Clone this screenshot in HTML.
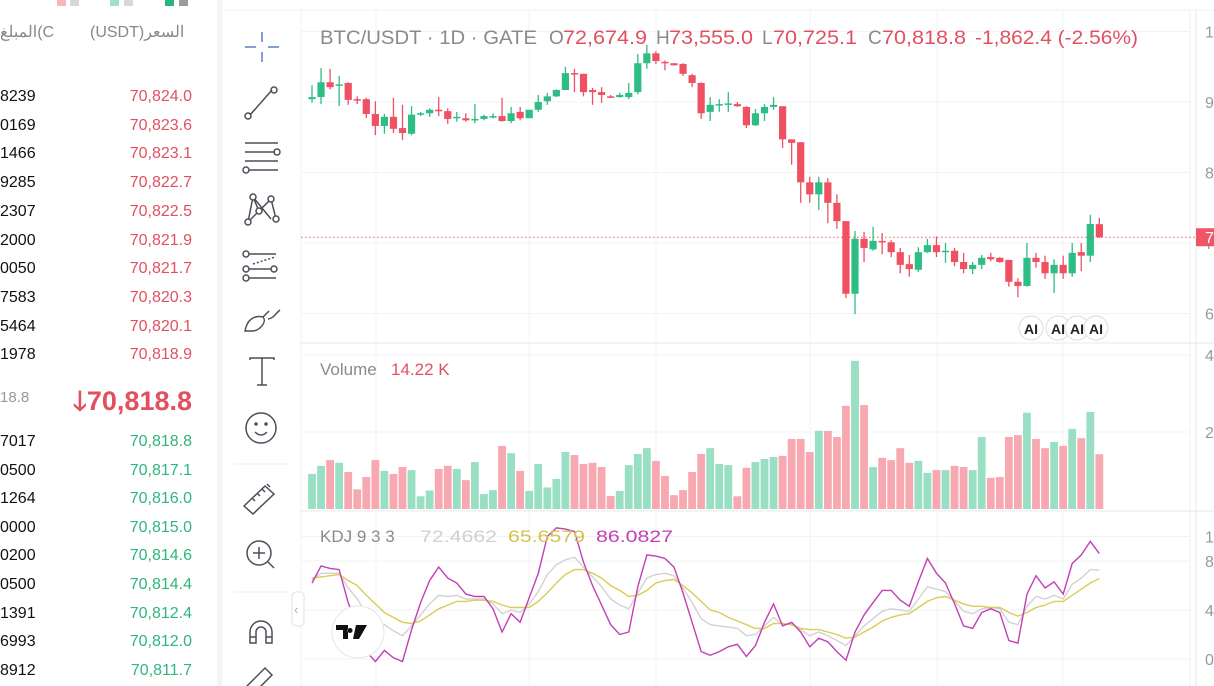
<!DOCTYPE html>
<html><head><meta charset="utf-8"><style>
body{margin:0;width:1214px;height:686px;overflow:hidden;background:#fff;font-family:"Liberation Sans","Noto Sans CJK SC",sans-serif;position:relative}
.lp{position:absolute;left:0;top:0;width:217px;height:686px;background:#fff;overflow:hidden}
.row{position:absolute;left:0;width:192px;height:20px;font-size:16px}
.row .a{position:absolute;left:0;color:#111}
.row .p{position:absolute;right:0}
.red{color:#e2505f}.grn{color:#2fb57e}
.ib{display:inline-block}
</style></head><body>
<div class="lp">
 <div style="position:absolute;left:57px;top:0;width:9px;height:6px;background:#f7b6bd"></div><div style="position:absolute;left:70px;top:0;width:9px;height:6px;background:#d7d8da"></div>
 <div style="position:absolute;left:110px;top:0;width:9px;height:6px;background:#9fe0c6"></div><div style="position:absolute;left:124px;top:0;width:9px;height:6px;background:#d7d8da"></div>
 <div style="position:absolute;left:165px;top:0;width:9px;height:6px;background:#27b57e"></div><div style="position:absolute;left:179px;top:0;width:9px;height:6px;background:#9a9ca0"></div>
 <div style="position:absolute;left:0;top:22px;width:56px;overflow:hidden;font-size:16px;color:#888;white-space:nowrap"><span class="ib">المبلغ</span><span class="ib">(C</span></div>
 <div style="position:absolute;left:90px;top:22px;font-size:16px;color:#888;white-space:nowrap"><span class="ib">(USDT)</span><span class="ib">السعر</span></div>
 <div id="asks"></div>
 <div style="position:absolute;left:0;top:383px;width:192px;height:30px">
  <span style="position:absolute;left:0;top:6px;font-size:15px;color:#999">18.8</span>
  <span style="position:absolute;right:0;top:-1px;font-size:27px;font-weight:bold;color:#e2505f">🡓70,818.8</span>
 </div>
 <div id="bids"></div>
</div>
<div style="position:absolute;left:217px;top:0;width:5px;height:686px;background:#f3f4f6"></div>
<svg id="svg" width="1214" height="686" style="position:absolute;left:0;top:0" xmlns="http://www.w3.org/2000/svg"></svg>
<script>
const opens=[90.4,90.7,92.8,92.3,92.7,90.4,90.4,88.3,86.6,87.9,86.3,85.5,88.2,88.4,88.9,88.7,87.7,87.7,87.4,87.6,87.9,88.0,87.3,88.6,87.7,88.9,90.1,90.8,91.7,94.1,94.0,91.7,91.4,90.8,90.7,90.7,91.4,95.5,96.9,95.7,95.5,95.4,93.8,92.7,88.6,89.6,89.7,89.7,89.3,86.7,88.4,89.3,89.4,84.7,84.3,78.6,76.9,78.6,75.7,73.1,62.8,70.6,69.1,70.3,70.1,68.7,67.0,66.2,68.7,69.7,68.7,68.9,67.3,66.3,66.9,68.0,67.9,67.6,64.5,63.9,67.9,67.3,65.7,66.9,65.7,68.7,68.2,72.67];
const highs=[92.4,94.8,94.7,93.7,92.8,90.8,90.6,90.1,88.3,90.6,89.6,89.4,88.6,89.1,90.7,89.1,88.6,88.4,89.7,88.2,88.4,90.6,89.3,89.3,88.9,91.0,91.3,91.8,95.0,94.7,94.0,92.0,92.1,91.0,91.3,92.7,96.8,98.1,97.2,95.9,95.5,95.5,94.0,92.8,90.7,90.4,91.4,90.0,89.4,89.0,89.7,90.7,89.4,84.7,84.3,79.4,79.4,79.2,76.9,73.1,71.7,71.6,72.3,71.4,70.4,69.3,68.3,69.4,70.6,70.9,70.0,69.3,68.6,67.3,68.3,68.6,68.0,67.6,65.0,70.0,68.6,68.2,67.7,68.2,70.0,70.0,74.0,73.56];
const lows=[89.9,89.7,91.8,89.4,89.6,89.7,87.7,85.3,85.5,85.6,84.6,85.3,88.0,87.9,88.0,86.9,87.2,87.2,87.0,87.4,87.7,87.2,87.0,87.4,87.7,88.6,89.6,90.7,91.7,91.4,90.8,89.6,89.9,90.6,90.6,90.4,91.1,94.7,95.4,94.5,95.2,93.7,92.1,87.6,87.3,88.6,88.6,89.3,86.3,86.6,87.3,88.9,83.5,81.1,75.7,75.7,74.7,72.8,72.0,62.2,59.9,67.3,68.9,68.4,68.0,65.7,65.2,65.9,68.6,68.0,67.2,66.7,65.7,65.6,66.3,67.4,67.2,63.8,62.3,63.8,66.5,64.9,62.9,64.9,65.2,66.0,67.3,70.73];
const closes=[90.7,92.8,92.1,92.5,90.3,90.3,88.3,86.6,87.9,86.2,85.6,88.2,88.4,88.9,88.7,87.6,87.9,87.4,87.6,88.0,88.0,87.3,88.4,87.7,88.9,90.0,90.8,91.7,94.1,94.0,91.4,91.4,91.0,90.7,91.0,91.3,95.5,96.9,95.8,95.5,95.2,94.0,92.7,88.4,89.6,89.7,89.8,89.4,86.7,88.4,89.3,89.6,84.7,84.2,78.6,76.9,78.6,75.7,73.1,62.8,70.6,69.3,70.3,70.1,68.7,66.9,66.3,68.7,69.7,68.7,68.9,67.3,66.3,66.9,67.9,67.7,67.3,64.5,63.9,67.9,67.3,65.7,66.9,65.7,68.6,68.2,72.7,70.8188];
const volumes=[9.1,11.2,12.7,12.0,9.6,5.1,8.3,12.7,9.9,9.1,10.9,10.1,3.3,4.8,10.4,11.2,10.4,7.5,12.2,3.9,4.9,16.4,14.5,9.9,4.7,11.7,5.6,7.8,14.8,14.0,11.7,12.0,10.9,3.4,4.7,11.4,14.3,15.8,12.5,8.6,3.6,4.9,9.6,14.3,15.8,11.7,11.4,3.3,10.7,12.2,13.0,13.5,13.8,18.2,18.2,14.8,20.3,20.3,18.7,26.8,38.5,27.0,10.9,13.3,12.7,15.8,12.0,12.5,9.4,10.1,10.1,11.2,10.9,10.1,18.7,8.1,8.3,18.7,19.2,25.0,18.2,15.8,17.4,16.4,20.8,18.4,25.2,14.22];
const kVals=[65,70,70,70,58,49,37,29,28,23,19,27,36,45,52,51,52,49,49,49,45,37,40,38,45,55,69,77,81,83,75,67,59,49,44,41,54,66,69,70,68,58,46,33,28,27,26,25,19,20,27,34,28,29,24,19,22,19,15,11,19,27,33,39,41,40,39,49,59,57,55,47,39,37,41,42,41,30,28,43,51,49,52,49,61,66,73,72.47];
const dVals=[66,67,68,69,64,60,52,45,38,34,30,29,31,36,41,44,47,47,48,48,47,44,42,42,42,47,54,62,69,73,73,70,66,60,56,51,52,56,62,64,65,60,54,47,40,38,34,31,28,25,25,29,29,28,25,24,24,22,20,17,18,22,26,31,34,36,37,42,47,50,51,48,45,43,43,42,42,38,35,38,42,44,47,47,52,57,62,65.66];
const jVals=[62,76,74,73,46,28,6,-2,7,1,-2,24,46,64,75,66,62,53,51,51,41,22,37,30,50,70,100,107,106,104,79,60,44,28,20,22,59,85,84,82,75,54,30,6,3,6,10,12,2,11,30,45,27,30,22,10,17,14,6,-1,22,36,46,56,56,48,43,63,82,70,62,45,27,25,38,41,38,15,13,53,68,58,63,53,78,85,96,86.08];
const priceTicks=["100000","90000","80000","70000","60000"];
const priceTickVals=[100,90,80,70,60];
const volTicks=["40K","20K"];const volTickVals=[40,20];
const kdjTicks=["100","80","40","0"];const kdjTickVals=[100,80,40,0];
const askAmts=["8239","0169","1466","9285","2307","2000","0050","7583","5464","1978"];
const askPrices=["70,824.0","70,823.6","70,823.1","70,822.7","70,822.5","70,821.9","70,821.7","70,820.3","70,820.1","70,818.9"];
const bidAmts=["7017","0500","1264","0000","0200","0500","1391","6993","8912"];
const bidPrices=["70,818.8","70,817.1","70,816.0","70,815.0","70,814.6","70,814.4","70,812.4","70,812.0","70,811.7"];

const NS="http://www.w3.org/2000/svg";
const svg=document.getElementById('svg');
const xS=i=>312+i*9.05;
const yP=p=>243-(p-70)*7.05;
const yV=v=>509-v*3.85;
const yK=v=>659-v*1.225;
const RED='#ef5062',GRN='#2ebd85';
function mk(tag,attrs,parent){const e=document.createElementNS(NS,tag);for(const k in attrs)e.setAttribute(k,attrs[k]);(parent||svg).appendChild(e);return e;}

const asks=document.getElementById('asks');
askAmts.forEach((a,i)=>{const r=document.createElement('div');r.className='row';r.style.top=(88+i*28.7)+'px';


r.innerHTML='<span class="a">'+a+'</span><span class="p red">'+askPrices[i]+'</span>';asks.appendChild(r);});
const bids=document.getElementById('bids');
bidAmts.forEach((a,i)=>{const r=document.createElement('div');r.className='row';r.style.top=(433+i*28.6)+'px';


r.innerHTML='<span class="a">'+a+'</span><span class="p grn">'+bidPrices[i]+'</span>';bids.appendChild(r);});

mk('line',{x1:222,y1:10,x2:1214,y2:10,stroke:'#eef0f3'});
mk('line',{x1:301,y1:10,x2:301,y2:686,stroke:'#eef0f3'});
mk('line',{x1:1190,y1:10,x2:1190,y2:686,stroke:'#eef0f3'});
mk('line',{x1:1196,y1:10,x2:1196,y2:686,stroke:'#e6e8eb'});
mk('line',{x1:301,y1:343,x2:1214,y2:343,stroke:'#e6e8eb'});
mk('line',{x1:301,y1:511,x2:1214,y2:511,stroke:'#e6e8eb'});
const grid=mk('g',{stroke:'#f1f3f6','stroke-width':1});


[376,529,656,810,937,1063].forEach(x=>mk('line',{x1:x,y1:10,x2:x,y2:686},grid));
priceTickVals.forEach(v=>mk('line',{x1:301,y1:yP(v),x2:1190,y2:yP(v)},grid));
volTickVals.forEach(v=>mk('line',{x1:301,y1:yV(v),x2:1190,y2:yV(v)},grid));
kdjTickVals.forEach(v=>mk('line',{x1:301,y1:yK(v),x2:1190,y2:yK(v)},grid));
function axLabel(t,y,name){const e=mk('text',{x:1205,y:y+6,'font-size':16,fill:'#999'});e.textContent=t;

}
priceTicks.forEach((t,i)=>axLabel(t,yP(priceTickVals[i]),'price-tick'));
volTicks.forEach((t,i)=>axLabel(t,yV(volTickVals[i]),'volume-tick'));
kdjTicks.forEach((t,i)=>axLabel(t,yK(kdjTickVals[i]),'kdj-tick'));

const cg=mk('g',{});


opens.forEach((o,i)=>{const c=closes[i],col=c>=o?GRN:RED,x=xS(i);
 const w=mk('line',{x1:x,x2:x,y1:yP(highs[i]),y2:yP(lows[i]),stroke:col,'stroke-width':1.3},cg);
 
 
 const t=Math.min(yP(o),yP(c)),h=Math.max(1.5,Math.abs(yP(o)-yP(c)));
 const b=mk('rect',{x:x-3.6,y:t,width:7.2,height:h,fill:col},cg);
 
 });
const lp=closes[closes.length-1];
mk('line',{x1:301,x2:1196,y1:yP(lp),y2:yP(lp),stroke:RED,'stroke-width':1,'stroke-dasharray':'1.5 2.5'});
const tag=mk('rect',{x:1196,y:yP(lp)-9,width:18,height:18,fill:'#f05565'});


const tt=mk('text',{x:1205,y:yP(lp)+6,'font-size':16,fill:'#fff'});tt.textContent='70,818.8';
const vg=mk('g',{});


volumes.forEach((v,i)=>{const col=closes[i]>=opens[i]?'#99dfc3':'#f7a8b0';
 const r=mk('rect',{x:xS(i)-3.9,y:yV(v),width:7.8,height:509-yV(v),fill:col},vg);
 
 });
const kclip=mk('clipPath',{id:'kc'});mk('rect',{x:301,y:512,width:889,height:174},kclip);
function series(arr,col,name){const d=arr.map((v,i)=>(i?'L':'M')+xS(i).toFixed(1)+' '+yK(v).toFixed(1)).join(' ');
 const p=mk('path',{d:d,fill:'none',stroke:col,'stroke-width':1.4,'clip-path':'url(#kc)'});
 
 }
series(kVals,'#d2d2d2','kdj-k-line');
series(dVals,'#dccb55','kdj-d-line');
series(jVals,'#c23fb6','kdj-j-line');

function txt(x,y,t,col,size,name,len){const a={x:x,y:y,'font-size':size||18,fill:col};if(len){a.textLength=len;a.lengthAdjust='spacingAndGlyphs';}
 const e=mk('text',a);e.textContent=t;
 
 return e;}
txt(320,44,'BTC/USDT · 1D · GATE','#8a8a8a',19,'symbol-title',217);
[['O',549,'72,674.9',563],['H',656,'73,555.0',669],['L',762,'70,725.1',773],['C',868,'70,818.8',882]].forEach(a=>{txt(a[1],44,a[0],'#8a8a8a',19,'ohlc-label');txt(a[3],44,a[2],'#e2505f',19,'ohlc-value',84);});
txt(975,44,'-1,862.4 (-2.56%)','#e2505f',19,'change-value',163);
txt(320,375,'Volume','#8a8a8a',17,'volume-title');
txt(391,375,'14.22 K','#e2505f',17,'volume-value');
txt(320,542,'KDJ 9 3 3','#8a8a8a',17,'kdj-title');
txt(420,542,'72.4662','#d0d0d0',17,'kdj-k-value',77);
txt(508,542,'65.6579','#d4c24a',17,'kdj-d-value',77);
txt(596,542,'86.0827','#c23fb6',17,'kdj-j-value',77);
[1031,1058,1077,1096].forEach(x=>{const g=mk('g',{});
 
 
 mk('circle',{cx:x,cy:328,r:12,fill:'#fff',stroke:'#ddd'},g);const t=mk('text',{x:x-7,y:334,'font-size':14,'font-weight':'bold',fill:'#222'},g);t.textContent='AI';});
const tv=mk('g',{});


mk('circle',{cx:358,cy:632,r:26,fill:'#fff',stroke:'#e6e6e6'},tv);
mk('path',{d:'M336 625h12v14h-5v-9h-7z M350 628a2.5 2.5 0 1 0 0.1 0z M356 625h11l-8 14h-6z',fill:'#111'},tv);
const ct=mk('g',{});


mk('rect',{x:292,y:592,width:12,height:34,rx:4,fill:'#fff',stroke:'#e2e2e2'},ct);
const ctt=mk('text',{x:294,y:614,'font-size':13,fill:'#aaa'},ct);ctt.textContent='‹';

const S='#4a4f57';
function icon(name,y,build){const g=mk('g',{fill:'none',stroke:S,'stroke-width':1.5});
 
 build(g,y);}
icon('crosshair-tool',47,(g,y)=>{mk('path',{d:`M262 ${y-15}v10 M262 ${y+5}v10 M245 ${y}h11 M268 ${y}h11`,stroke:'#5b7fc0'},g);});
icon('trend-line-tool',101,(g,y)=>{mk('line',{x1:250,y1:y+14,x2:272,y2:y-11},g);mk('circle',{cx:248,cy:y+15,r:3},g);mk('circle',{cx:274,cy:y-11,r:3},g);});
icon('horizontal-lines-tool',157,(g,y)=>{mk('path',{d:`M245 ${y-14}h33 M245 ${y-5}h30 M245 ${y+4}h33 M249 ${y+13}h29`},g);mk('circle',{cx:277,cy:y-5,r:3},g);mk('circle',{cx:246,cy:y+13,r:3},g);});
icon('pattern-tool',209,(g,y)=>{mk('path',{d:`M248 ${y+13}L253 ${y-12}L271 ${y+10}M253 ${y-12}L259 ${y+2}L271 ${y-10}L276 ${y+10}M248 ${y+13}L259 ${y+2}`},g);[[248,y+13],[253,y-12],[259,y+2],[271,y-10],[276,y+10]].forEach(p=>mk('circle',{cx:p[0],cy:p[1],r:3,fill:'#fff'},g));});
icon('fib-tool',265,(g,y)=>{mk('path',{d:`M249 ${y-11}h27 M249 ${y+4}h27 M249 ${y+13}h27`},g);mk('path',{d:`M253 ${y-1}l22 -7`,'stroke-dasharray':'2 2'},g);[[246,y-11],[246,y+4],[246,y+13],[274,y+4]].forEach(p=>mk('circle',{cx:p[0],cy:p[1],r:3,fill:'#fff'},g));});
icon('brush-tool',320,(g,y)=>{mk('path',{d:`M245 ${y+11}c2 -12 10 -16 18 -14c4 4 -2 13 -10 14z M263 ${y-3}l6 -6 M268 ${y-1}c5 0 8 -6 12 -9`},g);});
icon('text-tool',372,(g,y)=>{mk('path',{d:`M250 ${y-12}v-2h24v2 M262 ${y-14}v27 M257 ${y+13}h10`},g);});
icon('emoji-tool',428,(g,y)=>{mk('circle',{cx:261,cy:y,r:15},g);mk('path',{d:`M255 ${y+4}q6 6 12 0`},g);mk('circle',{cx:256,cy:y-4,r:1,fill:S},g);mk('circle',{cx:266,cy:y-4,r:1,fill:S},g);});
mk('line',{x1:234,x2:288,y1:464,y2:464,stroke:'#eceef1'});
icon('ruler-tool',497,(g,y)=>{mk('path',{d:`M244 ${y+9}l21 -20l9 8l-21 20z M252 ${y+1}l3 3 M257 ${y-4}l3 3 M262 ${y-8}l3 3 M267 ${y-13}l3 3`},g);});
icon('zoom-in-tool',555,(g,y)=>{mk('circle',{cx:259,cy:y-2,r:12},g);mk('path',{d:`M268 ${y+7}l6 6 M253 ${y-2}h12 M259 ${y-8}v12`},g);});
mk('line',{x1:234,x2:288,y1:592,y2:592,stroke:'#eceef1'});
icon('magnet-tool',630,(g,y)=>{mk('path',{d:`M250 ${y+13}v-11a11 11 0 0 1 22 0v11h-6v-11a5 5 0 0 0 -10 0v11z M250 ${y+7}h6 M266 ${y+7}h6`},g);});
icon('pencil-tool',680,(g,y)=>{mk('path',{d:`M245 ${y+8}l20 -20l7 7l-20 20z`},g);});
</script>
</body></html>
